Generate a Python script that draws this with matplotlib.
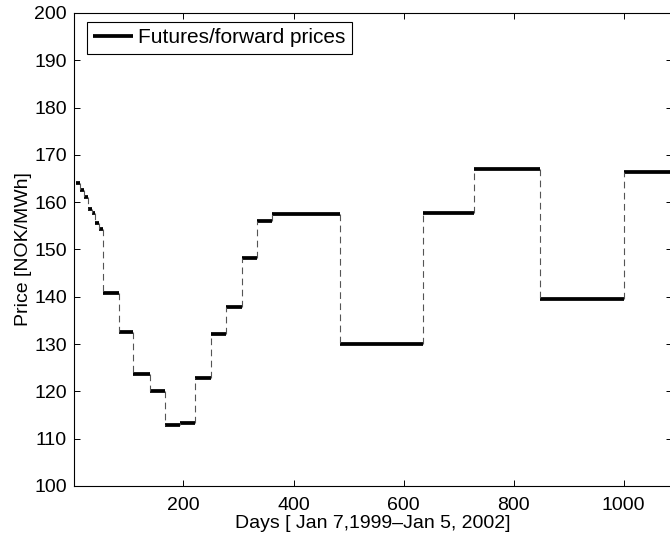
import matplotlib
matplotlib.use("Agg")
import matplotlib.pyplot as plt
import numpy as np

# Contract delivery periods (day index) and their futures/forward prices
week_starts = [5, 12, 19, 26, 33, 40, 47]
week_prices = [164.0, 162.5, 161.0, 158.5, 157.8, 155.7, 154.4]

month_starts = [54, 83, 109, 139, 166, 194, 221, 250, 278, 306, 334]
month_prices = [140.7, 132.6, 123.7, 120.1, 112.8, 113.3, 122.9, 132.2, 137.9, 148.2, 156.1]

season_starts = [361, 484, 636, 728, 848, 1001]
season_prices = [157.5, 130.0, 157.7, 167.0, 139.6, 166.4]
last_day = 1090

starts = np.array(week_starts + month_starts + season_starts, dtype=float)
prices = np.array(week_prices + month_prices + season_prices)
ends = np.append(starts[1:], last_day)

plt.rcParams['font.family'] = ['Liberation Sans', 'DejaVu Sans']

fig = plt.figure(figsize=(6.7, 5.41), dpi=100)
ax = fig.add_axes([74 / 670, 1 - 486 / 541, 598 / 670, 473 / 541])

# thick bar per contract, thin dashed jumps between consecutive contracts
ax.hlines(prices, starts, ends, colors='black', lw=2.7,
          label='Futures/forward prices', capstyle='butt')
ax.vlines(starts[1:], prices[:-1], prices[1:], colors='#555555', lw=0.8,
          linestyles=(0, (6, 4)))

ax.set_xlim(1, 1088)
ax.set_ylim(100, 200)
ax.set_xticks([200, 400, 600, 800, 1000])
ax.set_yticks(np.arange(100, 201, 10))
ax.tick_params(direction='in', length=4, width=0.7, top=True, right=True,
               labelsize=14)
ax.tick_params(axis='x', pad=8)
ax.tick_params(axis='y', pad=5)
for s in ax.spines.values():
    s.set_linewidth(0.8)

ax.set_xlabel('Days [ Jan 7,1999\u2013Jan 5, 2002]', fontsize=14, labelpad=1)
ax.set_ylabel('Price [NOK/MWh]', fontsize=14, labelpad=2)

leg = ax.legend(loc='upper left', bbox_to_anchor=(13 / 598, 1 - 9 / 473),
                borderaxespad=0, fancybox=False, framealpha=1,
                edgecolor='black', fontsize=15, handlelength=1.9,
                handletextpad=0.25, borderpad=0.3)
leg.get_frame().set_linewidth(0.8)

fig.savefig('out.png', dpi=100)
